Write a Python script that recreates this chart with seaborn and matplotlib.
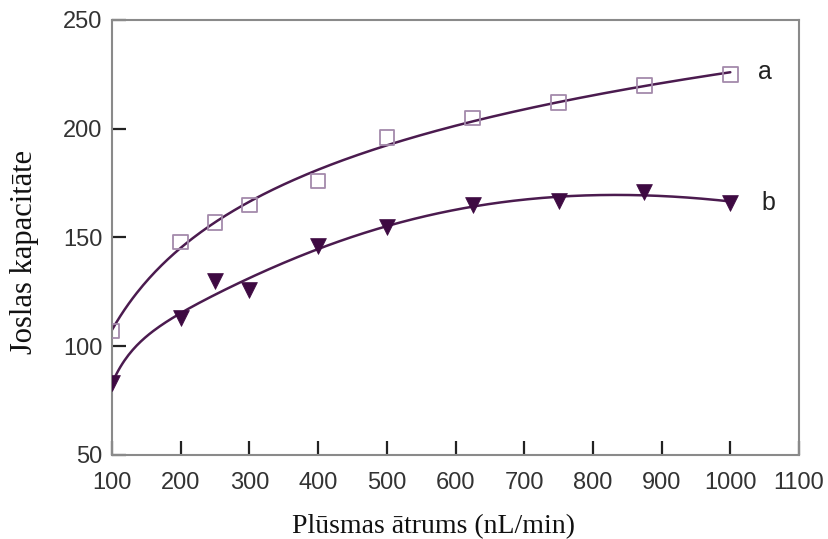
import numpy as np
import pandas as pd
import matplotlib
matplotlib.use("Agg")
import matplotlib.pyplot as plt
import seaborn as sns

# Data
flow = [100, 200, 250, 300, 400, 500, 625, 750, 875, 1000]
cap_a = [107, 148, 157, 165, 176, 196, 205, 212, 220, 225]
cap_b = [83, 113, 130, 126, 146, 155, 165, 167, 171, 166]
series_labels = ["a", "b"]
x_ticks = [100, 200, 300, 400, 500, 600, 700, 800, 900, 1000, 1100]
y_ticks = [50, 100, 150, 200, 250]

sns.set_theme(style="white")
plt.rcParams['font.family'] = ['Liberation Sans', 'DejaVu Sans']

line_col = "#4b1b4f"
sq_col = "#a48aab"
tri_col = "#3e0a42"

fig = plt.figure(figsize=(8.29, 5.39), dpi=100)
ax = fig.add_axes([112/829, 1 - 455/539, (799-112)/829, (455-20)/539])

df = pd.DataFrame({"flow": flow, "a": cap_a, "b": cap_b})

# fitted curves computed from the data
xs = np.linspace(min(flow), max(flow), 300)
coef_a = np.polyfit(np.log(df["flow"]), df["a"], 2)
fit_a = pd.DataFrame({"x": xs, "y": np.polyval(coef_a, np.log(xs))})
coef_b = np.polyfit(np.log(df["flow"]), df["b"], 4)
fit_b = pd.DataFrame({"x": xs, "y": np.polyval(coef_b, np.log(xs))})
for fit in (fit_a, fit_b):
    sns.lineplot(data=fit, x="x", y="y", ax=ax, color=line_col, linewidth=1.8, zorder=2)

sns.scatterplot(data=df, x="flow", y="a", ax=ax, marker="s", s=110,
                facecolor="none", edgecolor=sq_col, linewidth=1.3, zorder=3)
sns.scatterplot(data=df, x="flow", y="b", ax=ax, marker="v", s=130,
                color=tri_col, edgecolor=tri_col, linewidth=0.5, zorder=3)

ax.set_xlim(100, 1100)
ax.set_ylim(50, 250)
ax.set_xticks(x_ticks)
ax.set_yticks(y_ticks)
ax.tick_params(axis="x", pad=12)
ax.tick_params(axis="y", pad=7)
ax.tick_params(axis="both", direction="in", length=10, width=1.6, color="#222222",
               labelsize=17, labelcolor="#333333", bottom=True, left=True,
               top=False, right=False)
for sp in ax.spines.values():
    sp.set_color("#8a8a8a")
    sp.set_linewidth(1.5)

ax.set_xlabel("")
ax.set_ylabel("")
fig.text(434/829, 1 - 533/539, "Plūsmas ātrums (nL/min)", fontsize=20,
         family=["Liberation Serif"], color="#111111", ha="center", va="baseline")
fig.text(25/829, 1 - 252/539, "Joslas kapacitāte", fontsize=22, rotation=90,
         family=["Liberation Serif"], color="#111111", ha="center", va="center")

ax.text(1040, cap_a[-1] + 1, series_labels[0], fontsize=18, color="#222222", va="center")
ax.text(1045, cap_b[-1], series_labels[1], fontsize=18, color="#222222", va="center")

fig.savefig("out.png", dpi=100)
